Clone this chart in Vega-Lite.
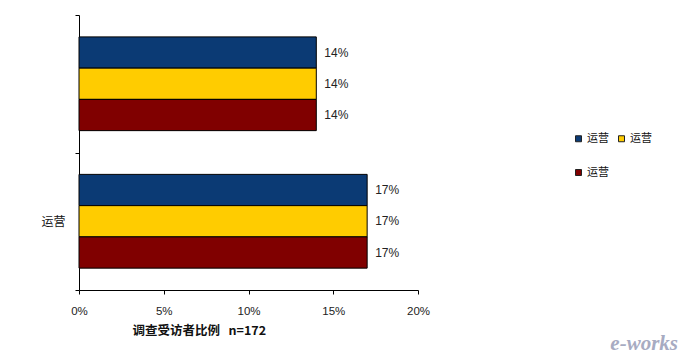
{
  "$schema": "https://vega.github.io/schema/vega-lite/v6.json",
  "width": 339,
  "height": 275,
  "autosize": {"type": "none"},
  "padding": {"left": 79, "top": 15, "right": 269, "bottom": 73},
  "background": "white",
  "config": {
    "view": {"stroke": null},
    "font": "Liberation Sans, Noto Sans CJK SC"
  },
  "title": {
    "text": "e-works",
    "orient": "bottom",
    "anchor": "end",
    "frame": "group",
    "dx": 260,
    "dy": -8,
    "font": "Liberation Serif",
    "fontSize": 21,
    "fontStyle": "italic",
    "fontWeight": "bold",
    "color": "#a7abc2"
  },
  "data": {
    "values": [
      {"group": "", "series": "运营A", "share": 0.14},
      {"group": "", "series": "运营B", "share": 0.14},
      {"group": "", "series": "运营C", "share": 0.14},
      {"group": "运营", "series": "运营A", "share": 0.17},
      {"group": "运营", "series": "运营B", "share": 0.17},
      {"group": "运营", "series": "运营C", "share": 0.17}
    ]
  },
  "encoding": {
    "y": {
      "field": "group",
      "type": "nominal",
      "sort": ["", "运营"],
      "scale": {"paddingInner": 0, "paddingOuter": 0},
      "axis": {
        "title": null,
        "tickBand": "extent",
        "domainColor": "#000",
        "tickColor": "#000",
        "tickSize": 4,
        "labelPadding": 10,
        "labelFontSize": 12,
        "labelColor": "#111",
        "labelFont": "Noto Sans CJK SC"
      }
    },
    "yOffset": {
      "field": "series",
      "type": "nominal",
      "sort": ["运营A", "运营B", "运营C"],
      "scale": {"paddingInner": 0, "paddingOuter": 0.7}
    },
    "x": {
      "field": "share",
      "type": "quantitative",
      "scale": {"domain": [0, 0.2], "nice": false},
      "axis": {
        "values": [0, 0.05, 0.1, 0.15, 0.2],
        "format": ".0%",
        "grid": false,
        "labelFlush": false,
        "domainColor": "#000",
        "tickColor": "#000",
        "tickSize": 4,
        "labelPadding": 11,
        "labelFontSize": 11.5,
        "labelColor": "#222",
        "title": "调查受访者比例\u00a0\u00a0\u00a0n=172",
        "titleFont": "Noto Sans CJK SC",
        "titleFontSize": 12.5,
        "titleFontWeight": "bold",
        "titleColor": "#111",
        "titleAnchor": "start",
        "titleX": 53,
        "titlePadding": 8
      }
    }
  },
  "layer": [
    {
      "mark": {"type": "bar", "stroke": "#000", "strokeWidth": 1},
      "encoding": {
        "color": {
          "field": "series",
          "type": "nominal",
          "sort": ["运营A", "运营B", "运营C"],
          "scale": {"domain": ["运营A", "运营B", "运营C"], "range": ["#0b3a74", "#ffcc00", "#800000"]},
          "legend": {
            "orient": "none",
            "direction": "horizontal",
            "legendX": 494,
            "legendY": 118,
            "title": null,
            "columns": 2,
            "padding": 0,
            "symbolType": "square",
            "symbolSize": 36,
            "symbolStrokeColor": "#222",
            "symbolStrokeWidth": 1,
            "labelExpr": "'运营'",
            "labelFont": "Noto Sans CJK SC",
            "labelFontSize": 11,
            "labelColor": "#111",
            "labelOffset": 3,
            "columnPadding": 7,
            "rowPadding": 22
          }
        }
      }
    },
    {
      "mark": {"type": "text", "align": "left", "dx": 8, "fontSize": 12, "color": "#222"},
      "encoding": {"text": {"field": "share", "type": "quantitative", "format": ".0%"}}
    }
  ]
}
